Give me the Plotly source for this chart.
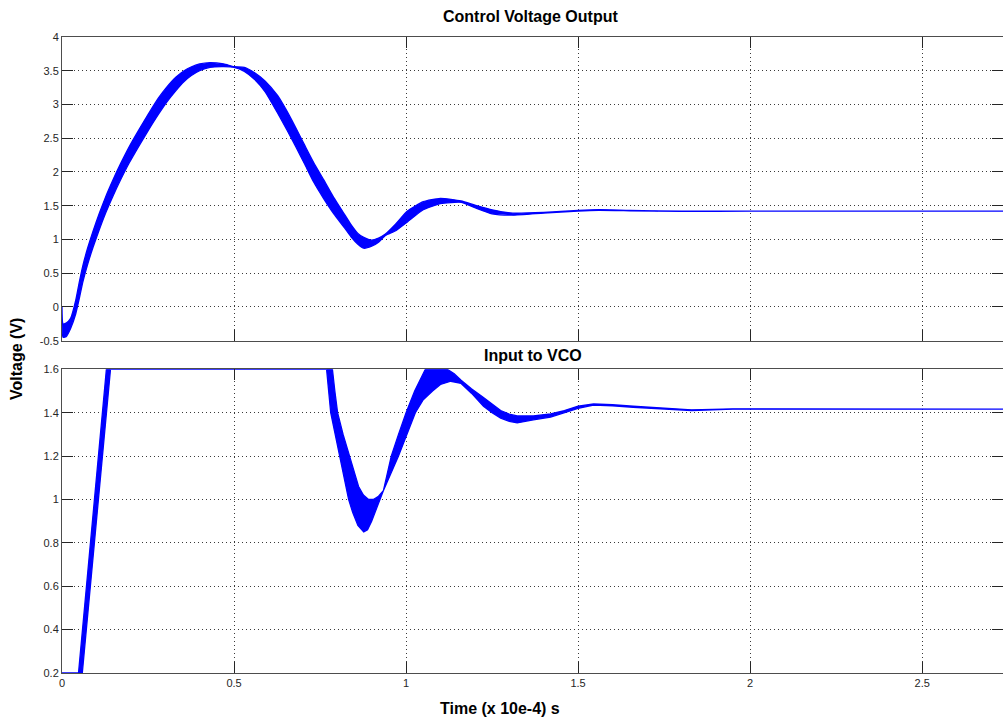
import plotly.graph_objects as go

# ---- Control voltage output: upper / lower envelope of the rippled trace ----
cv_upper_t = [0.000, 0.003, 0.012, 0.025, 0.040, 0.050, 0.061, 0.075, 0.090, 0.108,
              0.126, 0.148, 0.170, 0.196, 0.223, 0.250, 0.281, 0.305, 0.330, 0.355,
              0.375, 0.400, 0.430, 0.470, 0.500, 0.530, 0.560, 0.590, 0.627, 0.655,
              0.681, 0.706, 0.731, 0.760, 0.790, 0.820, 0.840, 0.860, 0.877, 0.900,
              0.920, 0.940, 0.970, 1.004, 1.050, 1.100, 1.160, 1.200, 1.250, 1.310,
              1.400, 1.500, 1.560, 1.650, 1.800, 2.000, 2.800]
cv_upper_v = [0.00, -0.25, -0.24, -0.17, 0.10, 0.36, 0.62, 0.88, 1.12, 1.38,
              1.62, 1.88, 2.12, 2.38, 2.62, 2.85, 3.10, 3.26, 3.40, 3.50,
              3.555, 3.60, 3.62, 3.60, 3.56, 3.55, 3.47, 3.35, 3.13, 2.89,
              2.64, 2.39, 2.145, 1.89, 1.62, 1.38, 1.22, 1.09, 1.03, 0.99,
              1.02, 1.08, 1.23, 1.42, 1.56, 1.61, 1.57, 1.51, 1.44, 1.39,
              1.40, 1.43, 1.44, 1.43, 1.42, 1.42, 1.42]
cv_lower_t = cv_upper_t
cv_lower_v = [-0.05, -0.45, -0.44, -0.32, -0.10, 0.12, 0.38, 0.64, 0.88, 1.14,
              1.38, 1.64, 1.88, 2.14, 2.38, 2.61, 2.86, 3.04, 3.20, 3.34,
              3.425, 3.50, 3.55, 3.56, 3.55, 3.49, 3.37, 3.19, 2.87, 2.61,
              2.36, 2.11, 1.855, 1.61, 1.38, 1.18, 1.04, 0.93, 0.87, 0.90,
              0.96, 1.06, 1.13, 1.26, 1.44, 1.53, 1.55, 1.47, 1.38, 1.36,
              1.39, 1.42, 1.43, 1.425, 1.415, 1.42, 1.42]

# ---- Input to VCO (limited to 0.2 .. 1.6 V) ----
vco_upper_t = [0.000, 0.048, 0.129, 0.786, 0.793, 0.801, 0.817, 0.836, 0.850, 0.862,
               0.876, 0.891, 0.905, 0.920, 0.934, 0.957, 0.978, 1.000, 1.025, 1.056,
               1.120, 1.140, 1.160, 1.190, 1.225, 1.250, 1.275, 1.300, 1.323, 1.370,
               1.420, 1.460, 1.500, 1.545, 1.600, 1.660, 1.760, 1.830, 1.950, 2.800]
vco_upper_v = [0.200, 0.200, 1.600, 1.600, 1.500, 1.400, 1.300, 1.200, 1.120, 1.060,
               1.020, 1.000, 1.000, 1.015, 1.040, 1.200, 1.300, 1.400, 1.500, 1.600,
               1.600, 1.580, 1.550, 1.510, 1.470, 1.440, 1.410, 1.393, 1.385, 1.385,
               1.394, 1.410, 1.430, 1.440, 1.437, 1.430, 1.418, 1.413, 1.418, 1.416]
vco_lower_t = [0.000, 0.059, 0.141, 0.769, 0.775, 0.781, 0.793, 0.807, 0.820, 0.833,
               0.845, 0.860, 0.877, 0.888, 0.900, 0.915, 0.934, 0.978, 1.002, 1.027,
               1.050, 1.077, 1.100, 1.130, 1.160, 1.190, 1.225, 1.250, 1.275, 1.300,
               1.323, 1.370, 1.420, 1.460, 1.500, 1.545, 1.600, 1.660, 1.760, 1.830,
               1.950, 2.800]
vco_lower_v = [0.200, 0.200, 1.600, 1.600, 1.500, 1.400, 1.300, 1.200, 1.100, 1.000,
               0.940, 0.880, 0.850, 0.860, 0.900, 0.960, 1.040, 1.200, 1.300, 1.400,
               1.460, 1.500, 1.530, 1.545, 1.535, 1.490, 1.430, 1.400, 1.375, 1.360,
               1.353, 1.367, 1.380, 1.400, 1.420, 1.435, 1.432, 1.425, 1.415, 1.410,
               1.416, 1.416]

x_ticks = [0, 0.5, 1, 1.5, 2, 2.5]
x_tick_text = ["0", "0.5", "1", "1.5", "2", "2.5"]
cv_ticks = [-0.5, 0, 0.5, 1, 1.5, 2, 2.5, 3, 3.5, 4]
cv_tick_text = ["-0.5", "0", "0.5", "1", "1.5", "2", "2.5", "3", "3.5", "4"]
vco_ticks = [0.2, 0.4, 0.6, 0.8, 1.0, 1.2, 1.4, 1.6]
vco_tick_text = ["0.2", "0.4", "0.6", "0.8", "1", "1.2", "1.4", "1.6"]

BLUE = "#0000ff"


def band(t_hi, v_hi, t_lo, v_lo, xa, ya, shape):
    xs = list(t_hi) + list(reversed(t_lo))
    ys = list(v_hi) + list(reversed(v_lo))
    return go.Scatter(x=xs, y=ys, mode="lines", fill="toself", fillcolor=BLUE,
                      line=dict(color=BLUE, width=1.3, shape=shape, smoothing=0.5),
                      xaxis=xa, yaxis=ya, hoverinfo="skip", showlegend=False)


fig = go.Figure()
fig.add_trace(band(cv_upper_t, cv_upper_v, cv_lower_t, cv_lower_v, "x", "y", "spline"))
fig.add_trace(band(vco_upper_t, vco_upper_v, vco_lower_t, vco_lower_v, "x2", "y2", "linear"))

FONT = "Liberation Sans, Arial, sans-serif"
axis_common = dict(
    showline=True, linecolor="#4d4d4d", linewidth=1, mirror="ticks",
    ticks="inside", ticklen=11, tickcolor="#262626", tickwidth=1,
    showgrid=True, gridcolor="#3a3a3a", griddash="1px,3px", gridwidth=1,
    zeroline=False, tickfont=dict(family=FONT, size=11, color="#262626"),
)
XMAX = 2.735
fig.update_layout(
    width=1003, height=719,
    margin=dict(l=62, r=0, t=37, b=46),
    paper_bgcolor="white", plot_bgcolor="white",
    xaxis=dict(domain=[0, 1], anchor="y", range=[0, XMAX], tickvals=x_ticks,
               showticklabels=False, **axis_common),
    yaxis=dict(domain=[0.5225, 1], anchor="x", range=[-0.5, 4], tickvals=cv_ticks,
               ticktext=cv_tick_text, **axis_common),
    xaxis2=dict(domain=[0, 1], anchor="y2", range=[0, XMAX], tickvals=x_ticks,
                ticktext=x_tick_text, **axis_common),
    yaxis2=dict(domain=[0, 0.4775], anchor="x2", range=[0.2, 1.6], tickvals=vco_ticks,
                ticktext=vco_tick_text, **axis_common),
    annotations=[
        dict(text="<b>Control Voltage Output</b>", xref="paper", yref="paper",
             x=0.4974, y=1.032, xanchor="center", yanchor="middle", showarrow=False,
             font=dict(family=FONT, size=16, color="#000000")),
        dict(text="<b>Input to VCO</b>", xref="paper", yref="paper",
             x=0.501, y=0.5, xanchor="center", yanchor="middle", showarrow=False,
             font=dict(family=FONT, size=16, color="#000000")),
        dict(text="<b>Voltage (V)</b>", xref="paper", yref="paper",
             x=-0.0484, y=0.4945, xanchor="center", yanchor="middle", showarrow=False,
             textangle=-90, font=dict(family=FONT, size=16, color="#000000")),
        dict(text="<b>Time (x 10e-4) s</b>", xref="paper", yref="paper",
             x=0.4655, y=-0.0566, xanchor="center", yanchor="middle", showarrow=False,
             font=dict(family=FONT, size=16, color="#000000")),
    ],
)

fig.write_html("out.html")
